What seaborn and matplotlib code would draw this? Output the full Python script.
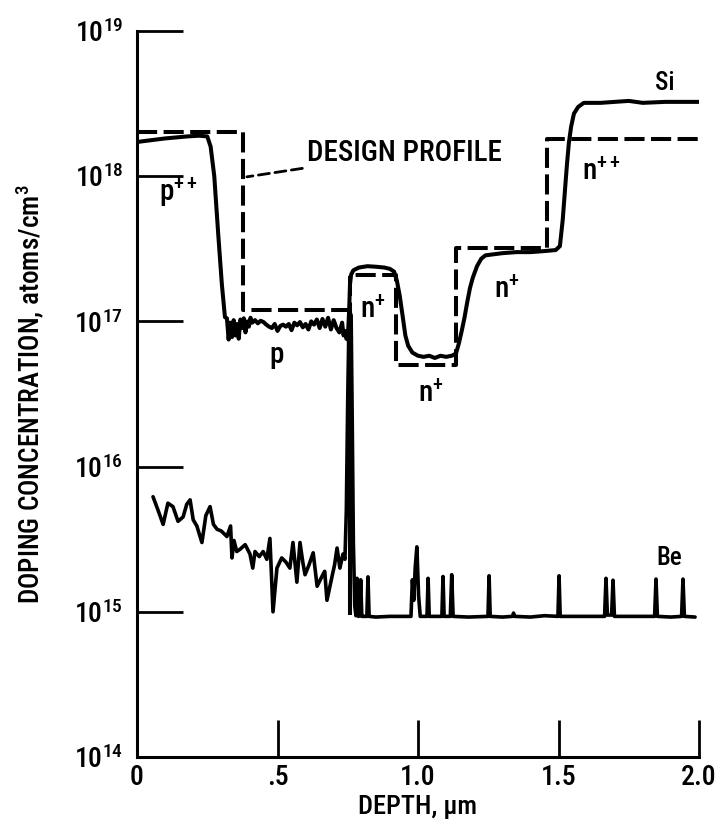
import numpy as np
import pandas as pd
import matplotlib
matplotlib.use("Agg")
import matplotlib.pyplot as plt
from matplotlib import font_manager as fm
import seaborn as sns

# ---------------- data ----------------
x_ticks = [0.0, 0.5, 1.0, 1.5, 2.0]
x_tick_labels = ["0", ".5", "1.0", "1.5", "2.0"]
y_ticks = [1e14, 1e15, 1e16, 1e17, 1e18, 1e19]
y_tick_labels = ["10$^{14}$", "10$^{15}$", "10$^{16}$", "10$^{17}$", "10$^{18}$", "10$^{19}$"]

design_p_x = [0.0, 0.377, 0.377, 0.758, 0.758]
design_p_y = [2.0e18, 2.0e18, 1.2e17, 1.2e17, 9.5e14]
design_n_x = [0.758, 0.758, 0.922, 0.922, 1.135, 1.135, 1.459, 1.459, 2.0]
design_n_y = [9.5e14, 2.1e17, 2.1e17, 5.0e16, 5.0e16, 3.2e17, 3.2e17, 1.8e18, 1.8e18]

si_x = [0.0, 0.03, 0.06, 0.10, 0.14, 0.18, 0.22, 0.25, 0.262, 0.275, 0.289, 0.302, 0.313,
        0.320, 0.326, 0.332, 0.338, 0.344, 0.350, 0.356, 0.362, 0.368, 0.374, 0.380, 0.386,
        0.392, 0.398, 0.404, 0.41, 0.42, 0.43, 0.44, 0.45, 0.46, 0.47, 0.48, 0.49, 0.50,
        0.51, 0.52, 0.53, 0.54, 0.55, 0.56, 0.57, 0.58, 0.59, 0.60, 0.61, 0.62, 0.63, 0.64,
        0.65, 0.66, 0.67, 0.68, 0.69, 0.70, 0.71, 0.72, 0.73, 0.735, 0.74, 0.745, 0.75,
        0.755, 0.758, 0.762, 0.77, 0.79, 0.82, 0.85, 0.88, 0.90, 0.915, 0.925,
        0.935, 0.945, 0.955, 0.965, 0.98, 1.0, 1.02, 1.04, 1.06, 1.08, 1.10, 1.12, 1.135,
        1.145, 1.155, 1.165, 1.175, 1.185, 1.195, 1.21, 1.225, 1.24, 1.27, 1.30, 1.35, 1.40,
        1.45, 1.49, 1.505, 1.515, 1.523, 1.53, 1.537, 1.545, 1.555, 1.57, 1.59, 1.65, 1.70,
        1.75, 1.80, 1.88, 1.95, 2.0]
si_y = [1.72e18, 1.75e18, 1.78e18, 1.82e18, 1.85e18, 1.88e18, 1.9e18, 1.88e18, 1.6e18, 1.0e18,
        4.0e17, 1.8e17, 1.07e17,
        1.05e17, 7.5e16, 9.8e16, 7.8e16, 1.02e17, 8.0e16, 9.6e16, 7.6e16, 1.03e17, 9.0e16,
        1.05e17, 8.4e16, 1.0e17, 9.2e16, 1.06e17, 9.8e16, 1.02e17, 9.7e16, 1.01e17, 9.9e16,
        9.5e16, 9.2e16, 9.0e16, 9.6e16, 8.6e16, 9.3e16, 9.5e16, 9.2e16, 9.6e16, 8.7e16,
        9.8e16, 9.4e16, 9.9e16, 9.1e16, 9.6e16, 8.8e16, 1.0e17, 9.5e16, 1.03e17, 9.0e16,
        1.04e17, 9.2e16, 1.06e17, 8.8e16, 1.02e17, 9.0e16, 8.4e16, 9.8e16, 8.0e16, 8.6e16,
        7.6e16, 7.5e16,
        1.2e17, 1.8e17, 2.1e17, 2.25e17, 2.35e17, 2.4e17, 2.38e17, 2.35e17, 2.3e17, 2.2e17, 1.9e17,
        1.5e17, 1.1e17, 8.0e16, 6.8e16, 6.1e16, 5.8e16, 5.7e16, 5.8e16, 5.6e16, 5.8e16, 5.7e16,
        5.8e16, 6.0e16,
        7.0e16, 8.5e16, 1.05e17, 1.35e17, 1.7e17, 2.0e17, 2.4e17, 2.7e17, 2.85e17, 2.9e17,
        2.95e17, 3.0e17, 3.0e17, 3.05e17, 3.1e17, 3.3e17, 5.0e17, 8.0e17, 1.2e18, 1.7e18,
        2.2e18, 2.7e18, 3.0e18, 3.2e18, 3.2e18, 3.25e18, 3.3e18, 3.2e18, 3.25e18, 3.25e18, 3.25e18]

be_x = [0.057, 0.075, 0.093, 0.11, 0.128, 0.146, 0.164, 0.177, 0.189, 0.20, 0.213, 0.231,
        0.245, 0.26, 0.272, 0.285, 0.30, 0.32, 0.333, 0.338, 0.345, 0.355, 0.367, 0.385,
        0.402, 0.412, 0.42, 0.435, 0.449, 0.462, 0.473, 0.484, 0.498, 0.515, 0.53, 0.544,
        0.555, 0.569, 0.58, 0.59, 0.598, 0.612, 0.627, 0.641, 0.658, 0.668, 0.676, 0.694,
        0.703, 0.712, 0.722, 0.733, 0.740, 0.745, 0.750, 0.755, 0.762, 0.766, 0.770, 0.775,
        0.779, 0.783, 0.788, 0.792, 0.796, 0.800, 0.806, 0.818, 0.822, 0.826, 0.85, 0.90,
        0.95, 0.975, 0.980, 0.985, 0.990, 0.996, 1.002, 1.008, 1.032, 1.036, 1.040, 1.07,
        1.085, 1.089, 1.093, 1.115, 1.12, 1.125, 1.18, 1.249, 1.253, 1.257, 1.30, 1.336,
        1.34, 1.344, 1.40, 1.45, 1.498, 1.502, 1.506, 1.58, 1.664, 1.669, 1.674, 1.689,
        1.694, 1.699, 1.76, 1.842, 1.847, 1.852, 1.90, 1.938, 1.943, 1.948, 1.986]
be_y = [6.2e15, 5.0e15, 4.0e15, 5.6e15, 5.3e15, 4.2e15, 4.5e15, 5.5e15, 5.9e15, 4.3e15,
        3.9e15, 3.0e15, 4.6e15, 5.3e15, 4.0e15, 3.7e15, 3.6e15, 3.3e15, 3.9e15, 2.35e15,
        3.1e15, 2.6e15, 2.7e15, 2.9e15, 2.5e15, 2.0e15, 2.6e15, 2.4e15, 2.6e15, 2.3e15,
        3.2e15, 1.0e15, 2.0e15, 2.35e15, 2.2e15, 2.0e15, 3.0e15, 1.6e15, 3.0e15, 2.2e15,
        1.8e15, 2.1e15, 2.55e15, 1.5e15, 1.75e15, 1.9e15, 1.2e15, 1.75e15, 2.1e15, 2.75e15,
        2.0e15, 2.5e15, 2.3e15, 5.0e15, 3.0e16, 1.2e17, 1.1e17, 2.0e16, 3.0e15, 1.1e15,
        9.4e14, 1.7e15, 9.3e14, 9.4e14, 1.66e15, 9.3e14, 9.3e14, 9.3e14, 1.74e15, 9.3e14,
        9.2e14, 9.3e14, 9.3e14, 9.3e14, 1.66e15, 1.2e15, 2.0e15, 2.8e15, 1.3e15, 9.3e14,
        9.3e14, 1.7e15, 9.3e14, 9.3e14, 9.3e14, 1.75e15, 9.3e14, 9.3e14, 1.8e15, 9.3e14,
        9.2e14, 9.3e14, 1.77e15, 9.3e14, 9.2e14, 9.3e14, 9.8e14, 9.3e14, 9.2e14, 9.4e14,
        9.3e14, 1.77e15, 9.3e14, 9.3e14, 9.3e14, 1.7e15, 9.5e14, 9.5e14, 1.65e15, 9.3e14,
        9.3e14, 9.3e14, 1.68e15, 9.3e14, 9.2e14, 9.3e14, 1.68e15, 9.3e14, 9.2e14]

region_labels = ["p$^{++}$", "p", "n$^{+}$", "n$^{+}$", "n$^{+}$", "n$^{++}$", "Si", "Be"]
region_x = [0.08, 0.472, 0.795, 1.0, 1.272, 1.582, 1.843, 1.85]
region_y = [10**17.89, 10**16.77, 10**17.08, 10**16.50, 10**17.22, 10**18.03, 10**18.64, 10**15.37]
region_size = [21, 21, 21, 21, 21, 21, 18, 18]

# ---------------- styling ----------------
sns.set_style("ticks")

def find_narrow():
    for fam in ["Liberation Sans Narrow", "DejaVu Sans Condensed", "Roboto Condensed",
                "Open Sans Condensed", "Noto Sans Condensed"]:
        try:
            fm.findfont(fm.FontProperties(family=fam), fallback_to_default=False)
            return fam, "normal"
        except Exception:
            pass
    for f in fm.fontManager.ttflist:
        if f.stretch in ("condensed", "semi-condensed", "extra-condensed") and f.name in (
                "DejaVu Sans", "Liberation Sans", "Noto Sans", "Roboto", "Open Sans"):
            return f.name, f.stretch
    return "Liberation Sans", "normal"

main_font, main_stretch = find_narrow()
plt.rcParams["font.family"] = [main_font, "DejaVu Sans"]
plt.rcParams["font.stretch"] = main_stretch
plt.rcParams["font.weight"] = "medium"
plt.rcParams["mathtext.fontset"] = "custom"
plt.rcParams["mathtext.rm"] = main_font + ":medium"
plt.rcParams["mathtext.it"] = main_font + ":medium"
plt.rcParams["mathtext.bf"] = main_font + ":bold"
plt.rcParams["mathtext.sf"] = main_font + ":medium"
plt.rcParams["text.color"] = "black"
plt.rcParams["axes.labelcolor"] = "black"
plt.rcParams["axes.labelweight"] = "medium"
plt.rcParams["xtick.color"] = "black"
plt.rcParams["ytick.color"] = "black"
plt.rcParams["axes.edgecolor"] = "black"

fig = plt.figure(figsize=(7.25, 8.24), dpi=100)
ax = fig.add_axes([137 / 725, 1 - 757 / 824, (699 - 137) / 725, (757 - 31) / 824])

lw = 2.9
df_dp = pd.DataFrame({"x": design_p_x, "y": design_p_y})
df_dn = pd.DataFrame({"x": design_n_x, "y": design_n_y})
df_si = pd.DataFrame({"x": si_x, "y": si_y})
df_be = pd.DataFrame({"x": be_x, "y": be_y})

for d in (df_dp, df_dn):
    sns.lineplot(data=d, x="x", y="y", ax=ax, sort=False, estimator=None,
                 color="black", linewidth=lw, linestyle=(0, (5, 1.6)))
sns.lineplot(data=df_si, x="x", y="y", ax=ax, sort=False, estimator=None,
             color="black", linewidth=lw)
sns.lineplot(data=df_be, x="x", y="y", ax=ax, sort=False, estimator=None,
             color="black", linewidth=lw * 0.9)

ax.set_yscale("log")
ax.set_xlim(0, 2.0)
ax.set_ylim(1e14, 1e19)
ax.set_xticks(x_ticks)
ax.set_xticklabels(x_tick_labels)
ax.set_yticks(y_ticks)
ax.set_yticklabels(y_tick_labels)
ax.yaxis.set_minor_locator(matplotlib.ticker.NullLocator())

sns.despine(ax=ax, top=True, right=True)
for s in ("left", "bottom"):
    ax.spines[s].set_linewidth(2.2)
    ax.spines[s].set_color("black")
ax.tick_params(axis="both", direction="in", length=25, width=2.0, labelsize=20,
               colors="black")
ax.tick_params(axis="y", length=33, pad=10)
ax.tick_params(axis="x", length=27, pad=5)

ax.set_xlabel("DEPTH, \u03bcm", fontsize=19, labelpad=3, color="black")
ax.set_ylabel("DOPING CONCENTRATION, atoms/cm$^3$", fontsize=19.5, labelpad=20, color="black")

for t, x, y, s in zip(region_labels, region_x, region_y, region_size):
    ax.text(x, y, t, fontsize=s, ha="left", va="center", color="black")

ax.annotate("DESIGN PROFILE", xy=(0.391, 9.9e17), xytext=(0.605, 1.45e18),
            fontsize=21, ha="left", va="center", color="black",
            arrowprops=dict(arrowstyle="-", color="black", linewidth=2.0,
                            linestyle=(0, (4, 2)), shrinkA=1, shrinkB=0))

fig.savefig("out.png", dpi=100)
